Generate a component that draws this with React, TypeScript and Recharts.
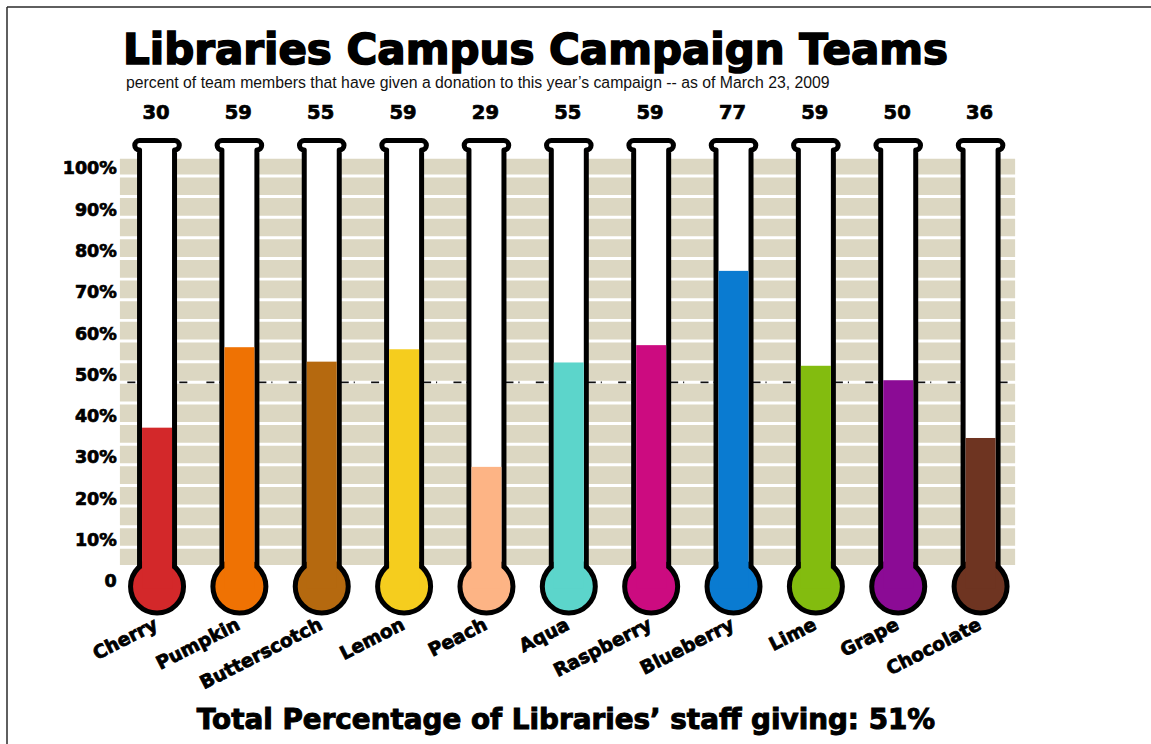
import React from 'react';
import { BarChart, Bar, XAxis, YAxis, ReferenceArea } from 'recharts';

const teams = ['Cherry', 'Pumpkin', 'Butterscotch', 'Lemon', 'Peach', 'Aqua', 'Raspberry', 'Blueberry', 'Lime', 'Grape', 'Chocolate'];
const printedValues = [30, 59, 55, 59, 29, 55, 59, 77, 59, 50, 36];
const fillLevels = [39, 58.5, 55, 58, 29.5, 54.8, 59, 77, 54, 50.5, 36.5];
const teamColors = ['#d3282a', '#ef7203', '#b5690f', '#f5cd1e', '#fdb485', '#5cd5cb', '#cc0b80', '#0a7bd1', '#83bc0f', '#8b0b95', '#6e3421'];
const yTicks = [0, 10, 20, 30, 40, 50, 60, 70, 80, 90, 100];
const stripeLevels = [10, 15, 20, 25, 30, 35, 40, 45, 50, 55, 60, 65, 70, 75, 80, 85, 90, 95, 100];
const goalLevel = 50;
const bandBottom = 5.7;
const bandTop = 104.2;
const Y_MAX = 110;

const data = teams.map((team, i) => ({ team, pos: i + 0.5, level: fillLevels[i], printed: printedValues[i], color: teamColors[i] }));

const STRIPE_HALF = 0.36;
const beigeBands = [bandBottom, ...stripeLevels.map((v) => v + STRIPE_HALF)].map((lo, i) => ({
  lo,
  hi: i < stripeLevels.length ? stripeLevels[i] - STRIPE_HALF : bandTop,
}));

const W = 1151;
const H = 744;
const BOLD = "'DejaVu Sans', sans-serif";
const BEIGE = '#dcd7c2';
const BAND_X1 = 0.05;
const BAND_X2 = 10.92;
const LIP_LEVEL = 109.2;

const Thermometer = (props: any) => {
  const { x, y, width, height, payload } = props;
  const cx = x + width / 2;
  const base = y + height;
  const ppu = height / payload.level;
  const lipTop = base - LIP_LEVEL * ppu;
  const sw = 5;
  const innerHalf = 15;
  const wall = innerHalf + sw / 2;
  const r = 4.8;
  const y0 = lipTop + sw / 2;
  const path = `M ${cx - wall} ${base} L ${cx - wall} ${y0 + 2 * r} A ${r} ${r} 0 0 1 ${cx - wall} ${y0} L ${cx + wall} ${y0} A ${r} ${r} 0 0 1 ${cx + wall} ${y0 + 2 * r} L ${cx + wall} ${base}`;
  return (
    <g>
      <path d={path} fill="#ffffff" stroke="#000" strokeWidth={sw} strokeLinejoin="round" />
      <circle cx={cx} cy={base - 2} r={26.5} fill={payload.color} stroke="#000" strokeWidth={sw} />
      <rect x={cx - innerHalf} y={y} width={innerHalf * 2} height={base - y} fill={payload.color} />
    </g>
  );
};

// goal line drawn as the bar background so it stays beneath the thermometers
const GoalBackground = (props: any) => {
  const { x, y, width, height, index } = props;
  const base = y + height;
  const ppu = height / Y_MAX;
  const gy = base - goalLevel * ppu;
  const x1 = index === 0 ? x + BAND_X1 * width : x;
  const x2 = index === teams.length - 1 ? x + (BAND_X2 - (teams.length - 1)) * width : x + width;
  return <line x1={x1} y1={gy} x2={x2} y2={gy} stroke="#111" strokeWidth={1.8} strokeDasharray="8 5" />;
};

const YTick = (props: any) => {
  const { x, y, payload } = props;
  const v = payload.value;
  return (
    <text x={x + 1} y={y - 1.5} textAnchor="end" fontFamily={BOLD} fontWeight="bold" fontSize={17.5} fill="#000" stroke="#000" strokeWidth={0.7}>
      {v === 0 ? '0' : `${v}%`}
    </text>
  );
};

const TeamTick = (props: any) => {
  const { x, y, payload } = props;
  const tx = x + 2;
  const ty = y + 40;
  return (
    <text x={tx} y={ty} textAnchor="end" transform={`rotate(-27, ${tx}, ${ty})`} fontFamily={BOLD} fontWeight="bold" fontSize={18.5} fill="#000" stroke="#000" strokeWidth={0.8}>
      {payload.value}
    </text>
  );
};

const ValueTick = (props: any) => {
  const { x, y, payload } = props;
  const idx = teams.indexOf(payload.value);
  return (
    <text x={x - 1} y={y - 16.2} textAnchor="middle" fontFamily={BOLD} fontWeight="bold" fontSize={19.5} fill="#000" stroke="#000" strokeWidth={0.7}>
      {printedValues[idx]}
    </text>
  );
};

export default function App() {
  return (
    <div style={{ position: 'absolute', left: 0, top: 0, width: W, height: H, background: '#fff', overflow: 'hidden' }}>
      <BarChart width={W} height={H} data={data} margin={{ top: 104.7, right: 129.3, bottom: 95.4, left: 15.8 }}>
        <XAxis dataKey="team" height={60} tickSize={0} tickMargin={0} axisLine={false} tickLine={false} tick={<TeamTick />} interval={0} />
        <XAxis xAxisId="top" dataKey="team" orientation="top" height={30} tickSize={0} tickMargin={0} axisLine={false} tickLine={false} tick={<ValueTick />} interval={0} />
        <XAxis xAxisId="num" dataKey="pos" type="number" domain={[0, 11]} hide />
        <YAxis domain={[0, Y_MAX]} ticks={yTicks} width={100} tickSize={0} tickMargin={0} axisLine={false} tickLine={false} tick={<YTick />} interval={0} />
        {beigeBands.map((b) => (
          <ReferenceArea key={b.lo} xAxisId="num" x1={BAND_X1} x2={BAND_X2} y1={b.lo} y2={b.hi} fill={BEIGE} fillOpacity={1} stroke="none" />
        ))}
        <Bar dataKey="level" shape={<Thermometer />} background={<GoalBackground />} isAnimationActive={false} />
      </BarChart>
      <svg width={W} height={H} style={{ position: 'absolute', left: 0, top: 0, pointerEvents: 'none' }}>
        <line x1={7} y1={7} x2={W} y2={7} stroke="#2a2a2a" strokeWidth={1.5} />
        <line x1={7} y1={7} x2={7} y2={H} stroke="#2a2a2a" strokeWidth={1.5} />
        <text x={123} y={63.5} fontFamily={BOLD} fontWeight="bold" fontSize={42} fill="#000" stroke="#000" strokeWidth={1.6}>Libraries Campus Campaign Teams</text>
        <text x={126} y={87.5} fontFamily="'Liberation Sans', Arial, sans-serif" fontSize={15.8} fill="#111">percent of team members that have given a donation to this year’s campaign -- as of March 23, 2009</text>
        <text x={566} y={729} textAnchor="middle" fontFamily={BOLD} fontWeight="bold" fontSize={27.8} fill="#000" stroke="#000" strokeWidth={1}>Total Percentage of Libraries’ staff giving: 51%</text>
      </svg>
    </div>
  );
}
